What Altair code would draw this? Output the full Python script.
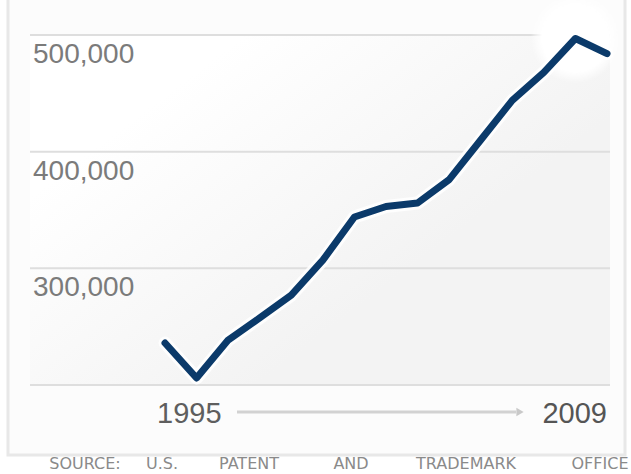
import altair as alt
import pandas as pd

# ---- data ----
years = list(range(1995, 2010))
applications = [236000, 206000, 238500, 257500, 277000, 307000, 344000, 353000,
                356000, 376000, 410000, 444000, 468000, 497000, 484000]
grid_values = [200000, 300000, 400000, 500000]
y_label_values = [300000, 400000, 500000]
x_labels = ["1995", "2009"]
x_label_years = [1995, 2009]
source_words = ["SOURCE:", "U.S.", "PATENT", "AND", "TRADEMARK", "OFFICE"]

df = pd.DataFrame({"year": years, "apps": applications})
grid_df = pd.DataFrame({"v": grid_values})
ylab_df = pd.DataFrame({"v": y_label_values})
xlab_df = pd.DataFrame({"year": x_label_years, "label": x_labels})

# ---- layout ----
W, H = 580, 350
word_centers = [55, 132, 219, 321, 436, 570]  # pixel centres relative to plot left
src_df = pd.DataFrame({"word": source_words, "px": word_centers})

xscale = alt.Scale(domain=[1990.724, 2009.095], nice=False, zero=False)
yscale = alt.Scale(domain=[200000, 500000], nice=False, zero=False)
one = pd.DataFrame({"a": [0]})

panel = alt.Chart(one).mark_rect(fill="#fcfcfc", stroke="#e8e8e8", strokeWidth=3).encode(
    x=alt.value(-22), x2=alt.value(595), y=alt.value(-40), y2=alt.value(420)
)

bg = alt.Chart(one).mark_rect(
    color=alt.LinearGradient(
        gradient="linear",
        stops=[alt.GradientStop(color="#ffffff", offset=0),
               alt.GradientStop(color="#f3f3f3", offset=1)],
        x1=0.25, y1=0.15, x2=0.75, y2=0.55,
    )
).encode(x=alt.value(0), x2=alt.value(W), y=alt.value(0), y2=alt.value(H))

grid = alt.Chart(grid_df).mark_rule(color="#dedede", strokeWidth=2).encode(
    y=alt.Y("v:Q", scale=yscale, axis=None)
)

ylabels = alt.Chart(ylab_df).mark_text(
    align="left", baseline="alphabetic", dx=3, dy=28, font="Liberation Sans",
    fontSize=28, color="#7b7b7b"
).encode(
    x=alt.value(0),
    y=alt.Y("v:Q", scale=yscale, axis=None),
    text=alt.Text("v:Q", format=","),
)

glow = alt.Chart(df).transform_filter("datum.year == 2008").mark_circle(
    size=8000, opacity=1,
    color=alt.RadialGradient(
        gradient="radial",
        stops=[alt.GradientStop(color="#ffffff", offset=0),
               alt.GradientStop(color="#ffffff", offset=0.75),
               alt.GradientStop(color="rgba(255,255,255,0)", offset=1)],
    ),
).encode(
    x=alt.X("year:Q", scale=xscale, axis=None),
    y=alt.Y("apps:Q", scale=yscale, axis=None),
)

halo = alt.Chart(df).mark_line(color="white", strokeWidth=13, opacity=0.85,
                               strokeJoin="round", strokeCap="round").encode(
    x=alt.X("year:Q", scale=xscale, axis=None),
    y=alt.Y("apps:Q", scale=yscale, axis=None),
)

line = alt.Chart(df).mark_line(color="#0b3a6a", strokeWidth=7,
                               strokeJoin="round", strokeCap="round").encode(
    x=alt.X("year:Q", scale=xscale, axis=None),
    y=alt.Y("apps:Q", scale=yscale, axis=None),
)

arrow_line = alt.Chart(one).mark_rule(color="#d2d2d2", strokeWidth=3).encode(
    x=alt.value(207), x2=alt.value(486), y=alt.value(377)
)
arrow_head = alt.Chart(one).mark_point(shape="triangle-right", filled=True,
                                       color="#c9c9c9", size=70, opacity=1).encode(
    x=alt.value(490), y=alt.value(377)
)

lab_left = alt.Chart(xlab_df).transform_filter("datum.year == 1995").mark_text(
    align="left", baseline="alphabetic", dx=-8, font="Liberation Sans",
    fontSize=29, color="#5e5e5e"
).encode(x=alt.X("year:Q", scale=xscale, axis=None), y=alt.value(388), text="label:N")

lab_right = alt.Chart(xlab_df).transform_filter("datum.year == 2009").mark_text(
    align="right", baseline="alphabetic", dx=0, font="Liberation Sans",
    fontSize=29, color="#555555"
).encode(x=alt.X("year:Q", scale=xscale, axis=None), y=alt.value(388), text="label:N")

source = alt.Chart(src_df).mark_text(
    align="center", baseline="alphabetic", font="DejaVu Sans", fontSize=16,
    color="#8a8a8a"
).encode(x=alt.X("px:Q", scale=None, axis=None), y=alt.value(434), text="word:N")

chart = alt.layer(
    panel, bg, grid, glow, ylabels, halo, line, arrow_line, arrow_head,
    lab_left, lab_right, source
).properties(
    width=W, height=H,
    autosize=alt.AutoSizeParams(type="none"),
    padding={"left": 30, "top": 35, "right": 21, "bottom": 89},
    background="white",
).configure_view(stroke=None)

chart.save("out.html", embed_options={"renderer": "svg", "actions": False})
